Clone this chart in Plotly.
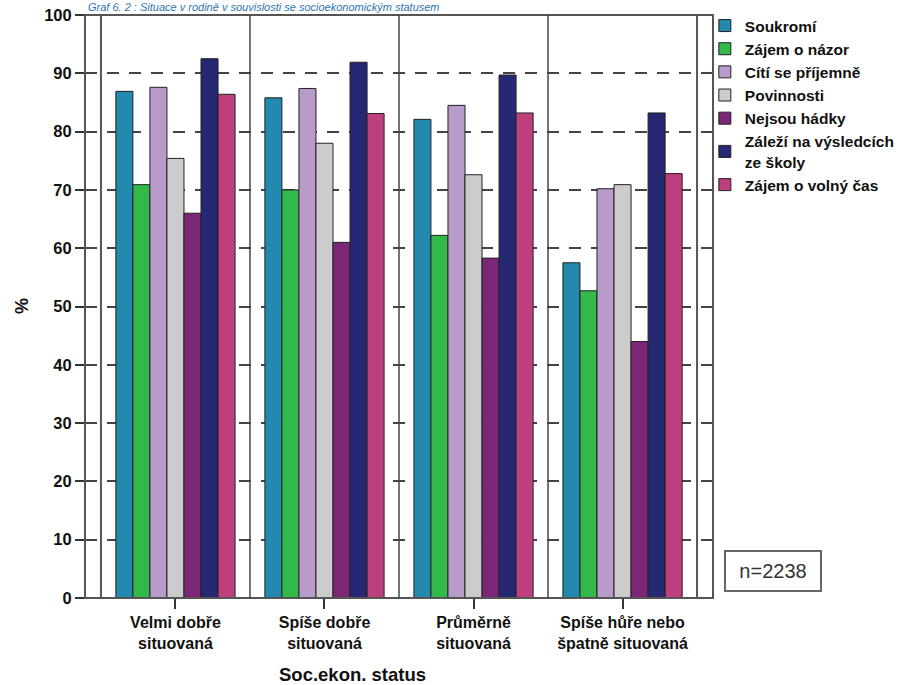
import plotly.graph_objects as go

categories = ["Velmi dobře<br>situovaná", "Spíše dobře<br>situovaná",
              "Průměrně<br>situovaná", "Spíše hůře nebo<br>špatně situovaná"]
series_names = ["Soukromí", "Zájem o názor", "Cítí se příjemně", "Povinnosti",
                "Nejsou hádky", "Záleží na výsledcích<br>ze školy", "Zájem o volný čas"]
soukromi = [86.9, 85.8, 82.1, 57.5]
zajem_o_nazor = [70.9, 70.0, 62.2, 52.7]
citi_se_prijemne = [87.6, 87.4, 84.5, 70.2]
povinnosti = [75.4, 78.0, 72.6, 70.9]
nejsou_hadky = [66.0, 61.0, 58.3, 44.0]
zalezi_na_vysledcich = [92.5, 91.9, 89.7, 83.2]
zajem_o_volny_cas = [86.4, 83.1, 83.2, 72.8]
colors = ["#2389AE", "#33B84A", "#B89ACB", "#CCCCCC", "#7B2677", "#272873", "#BE3F7E"]
y_ticks = [0, 10, 20, 30, 40, 50, 60, 70, 80, 90, 100]

series_values = [soukromi, zajem_o_nazor, citi_se_prijemne, povinnosti,
                 nejsou_hadky, zalezi_na_vysledcich, zajem_o_volny_cas]

FONT = "Liberation Sans"

fig = go.Figure()
for name, vals, col in zip(series_names, series_values, colors):
    fig.add_trace(go.Bar(
        x=categories, y=vals, name=name,
        marker=dict(color=col, line=dict(color="#222222", width=1)),
    ))

fig.update_layout(
    width=921, height=685,
    margin=dict(l=85, r=208, t=15, b=87, autoexpand=False),
    paper_bgcolor="white", plot_bgcolor="white",
    barmode="group", bargap=0.2, bargroupgap=0,
    font=dict(family=FONT, color="#111111"),
    legend=dict(
        x=0.987, y=1.0103, xanchor="left", yanchor="top",
        font=dict(family=FONT, size=15.5, weight="bold", color="#111111"),
        bgcolor="rgba(0,0,0,0)", borderwidth=0,
        tracegroupgap=0, itemwidth=30,
    ),
    xaxis=dict(
        type="category", range=[-0.607, 3.607], automargin=False,
        showgrid=False, zeroline=False, showline=False,
        ticks="outside", ticklen=10, tickcolor="#333333", tickwidth=1.5,
        tickfont=dict(family=FONT, size=16, weight="bold", color="#111111"),
    ),
    yaxis=dict(
        range=[0, 100], tickvals=y_ticks, automargin=False,
        showgrid=True, gridcolor="#444444", gridwidth=1.5, griddash="12px,10px",
        zeroline=False, showline=False,
        ticks="outside", ticklen=9, tickcolor="#333333", tickwidth=1.5,
        tickfont=dict(family=FONT, size=16.5, weight="bold", color="#111111"),
    ),
)

shapes = [
    dict(type="rect", xref="paper", yref="paper", x0=0, x1=1, y0=0, y1=1,
         line=dict(color="#555555", width=2), layer="above"),
]
for xv in [-0.5, 3.5]:
    shapes.append(dict(type="line", xref="x", yref="paper", x0=xv, x1=xv, y0=0, y1=1,
                       line=dict(color="#555555", width=2), layer="above"))
for xv in [0.5, 1.5, 2.5]:
    shapes.append(dict(type="line", xref="x", yref="paper", x0=xv, x1=xv, y0=0, y1=1,
                       line=dict(color="#444444", width=1.5), layer="above"))
fig.update_layout(shapes=shapes)

# axis titles
fig.add_annotation(
    xref="paper", yref="paper", x=(352 - 85) / 628, y=(598 - 674) / 583,
    xanchor="center", yanchor="middle", showarrow=False,
    text="Soc.ekon. status",
    font=dict(family=FONT, size=18.5, weight="bold", color="#111111"),
)
fig.add_annotation(
    xref="paper", yref="paper", x=(22 - 85) / 628, y=(598 - 306) / 583,
    xanchor="center", yanchor="middle", showarrow=False, textangle=-90,
    text="%",
    font=dict(family=FONT, size=18, weight="bold", color="#111111"),
)
fig.add_annotation(
    xref="paper", yref="paper", x=(724 - 85) / 628, y=(598 - 571) / 583,
    xanchor="left", yanchor="middle",
    text="n=2238", showarrow=False,
    font=dict(family=FONT, size=20, color="#333333"),
    bordercolor="#666666", borderwidth=2, borderpad=0, width=94, height=38,
)
fig.add_annotation(
    xref="paper", yref="paper", x=0.003, y=(598 - 0) / 583, xanchor="left", yanchor="top",
    text="Graf 6. 2 : Situace v rodině v souvislosti se socioekonomickým statusem",
    showarrow=False, borderpad=0,
    font=dict(family=FONT, size=11, color="#2E74B5", style="italic"),
)

fig.write_html("out.html", config={"displayModeBar": False},
               post_script="document.body.style.margin='0';")
